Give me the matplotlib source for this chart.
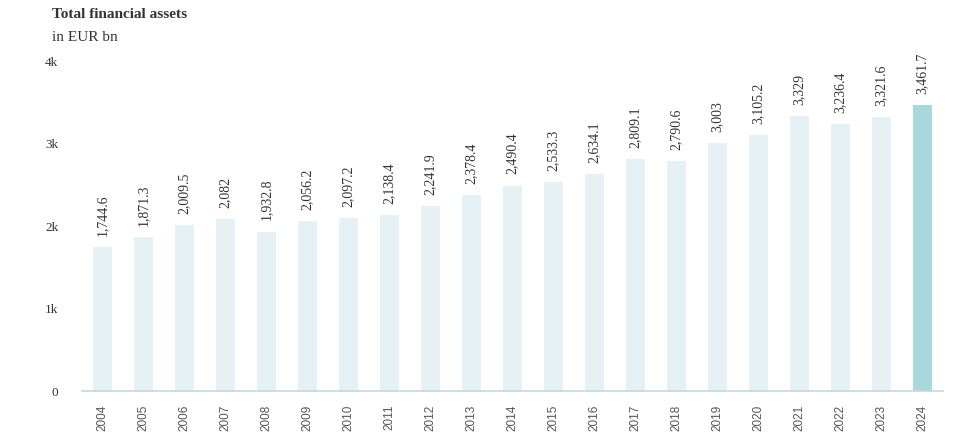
import matplotlib.pyplot as plt

years = [str(y) for y in range(2004, 2025)]
assets = [1744.6, 1871.3, 2009.5, 2082, 1932.8, 2056.2, 2097.2, 2138.4, 2241.9, 2378.4,
          2490.4, 2533.3, 2634.1, 2809.1, 2790.6, 3003, 3105.2, 3329, 3236.4, 3321.6, 3461.7]
value_labels = ['1,744.6', '1,871.3', '2,009.5', '2,082', '1,932.8', '2,056.2', '2,097.2',
                '2,138.4', '2,241.9', '2,378.4', '2,490.4', '2,533.3', '2,634.1', '2,809.1',
                '2,790.6', '3,003', '3,105.2', '3,329', '3,236.4', '3,321.6', '3,461.7']
y_ticks = [0, 1000, 2000, 3000, 4000]
y_tick_labels = ['0', '1k', '2k', '3k', '4k']

serif = 'Liberation Serif'
sans = 'Liberation Sans'

fig = plt.figure(figsize=(9.6, 4.46), dpi=100)
ax = fig.add_axes([0.0854, 0.1233, 0.8966, 0.7397])

colors = ['#e5f1f4'] * (len(years) - 1) + ['#a9d8db']
x = range(len(years))
ax.bar(x, assets, width=0.47, color=colors, zorder=2)

for i, v in enumerate(assets):
    ax.annotate(value_labels[i], (i, v), xytext=(0, 8), textcoords='offset points',
                rotation=90, ha='center', va='bottom', fontsize=10,
                family=serif, color='#333333')

ax.set_xlim(-0.5, len(years) - 0.5)
ax.set_ylim(0, 4000)
ax.set_xticks(list(x))
ax.set_xticklabels(years, rotation=90, fontsize=8.5, family=sans, color='#555555')
ax.set_yticks(y_ticks)
ax.set_yticklabels(y_tick_labels, fontsize=9.5, family=serif, color='#333333')
ax.tick_params(axis='x', length=0, pad=10)
ax.tick_params(axis='y', length=0, pad=17)

for s in ['top', 'right', 'left']:
    ax.spines[s].set_visible(False)
ax.spines['bottom'].set_color('#c3d9e0')
ax.spines['bottom'].set_linewidth(1.2)

fig.text(0.054, 0.967, 'Total financial assets', fontsize=11, fontweight='bold',
         family=serif, color='#333333', va='center')
fig.text(0.054, 0.915, 'in EUR bn', fontsize=11, family=serif, color='#333333', va='center')

fig.savefig('out.png', dpi=100)
